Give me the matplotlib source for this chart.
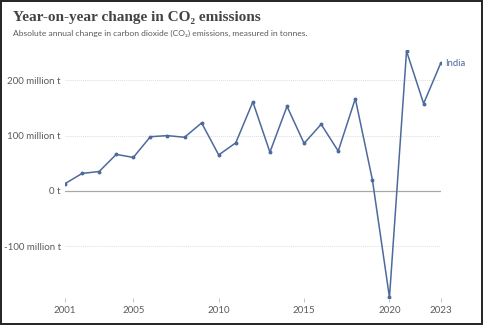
import matplotlib
matplotlib.use('agg')
import matplotlib.pyplot as plt
from matplotlib.patches import Rectangle

# Year-on-year change in CO2 emissions, India (million tonnes)
years = list(range(2001, 2024))
change_mt = [13, 31.5, 35, 66, 60.5, 98, 100, 97, 123, 65, 87, 161, 70, 153,
             86, 120.5, 72, 167, 20, -193, 253, 158, 231]

x_ticks = [2001, 2005, 2010, 2015, 2020, 2023]
y_ticks = [-100, 0, 100, 200]
y_labels = ['-100 million t', '0 t', '100 million t', '200 million t']

line_col = '#4c6a9c'
txt_col = '#5b5b5b'

fig = plt.figure(figsize=(4.84, 3.25), dpi=100)
ax = fig.add_axes([65 / 484, 27 / 325, 375.7 / 484, 248 / 325])

# grid lines first so the data sits on top
for v in y_ticks:
    if v == 0:
        ax.axhline(v, color='#a8a8a8', lw=0.9, zorder=1)
    else:
        ax.axhline(v, color='#dddddd', lw=0.7, ls=(0, (1, 1)), zorder=1)

ax.plot(years, change_mt, color=line_col, lw=1.1, marker='o', ms=1.8, zorder=3)
ax.text(years[-1] + 0.25, change_mt[-1], 'India', color=line_col,
        fontsize=6.8, family='Lato', va='center', ha='left')

ax.set_xlim(2001, 2023)
ax.set_ylim(-194, 255)
ax.set_xticks(x_ticks)
ax.set_xticklabels([str(t) for t in x_ticks], family='Lato', fontsize=7, color=txt_col)
ax.set_yticks(y_ticks)
ax.set_yticklabels(y_labels, family='Lato', fontsize=7, color=txt_col)
ax.tick_params(axis='x', length=3, width=0.6, color='#bbbbbb', pad=3)
ax.tick_params(axis='y', length=0, pad=3)
for s in ax.spines.values():
    s.set_visible(False)

fig.text(13 / 484, 1 - 18 / 325, 'Year-on-year change in CO\u2082 emissions',
         family=['Liberation Serif', 'DejaVu Serif'], fontsize=11, weight='bold',
         color='#444444', va='center')
fig.text(13 / 484, 1 - 33 / 325,
         'Absolute annual change in carbon dioxide (CO\u2082) emissions, measured in tonnes.',
         family=['Lato', 'DejaVu Sans'], fontsize=6.1, color=txt_col, va='center')

# outer frame
fig.patches.append(Rectangle((0.002, 0.003), 0.994, 0.993, transform=fig.transFigure,
                             fill=False, ec='#222222', lw=1.4))

plt.savefig('out.png', dpi=100)
